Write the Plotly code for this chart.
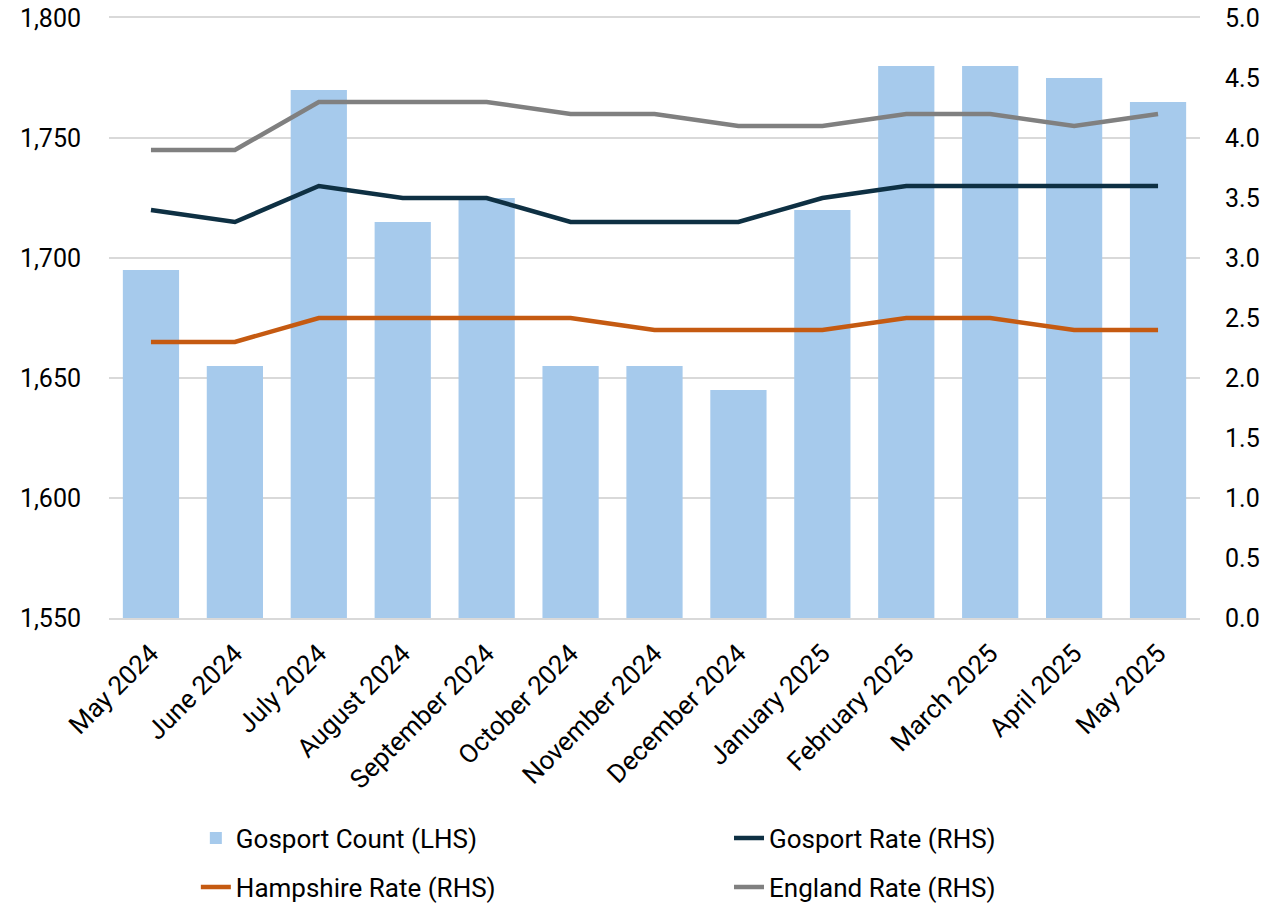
import plotly.graph_objects as go

months = ["May 2024", "June 2024", "July 2024", "August 2024", "September 2024",
          "October 2024", "November 2024", "December 2024", "January 2025",
          "February 2025", "March 2025", "April 2025", "May 2025"]
gosport_count = [1695, 1655, 1770, 1715, 1725, 1655, 1655, 1645, 1720, 1780, 1780, 1775, 1765]
gosport_rate = [3.4, 3.3, 3.6, 3.5, 3.5, 3.3, 3.3, 3.3, 3.5, 3.6, 3.6, 3.6, 3.6]
hampshire_rate = [2.3, 2.3, 2.5, 2.5, 2.5, 2.5, 2.4, 2.4, 2.4, 2.5, 2.5, 2.4, 2.4]
england_rate = [3.9, 3.9, 4.3, 4.3, 4.3, 4.2, 4.2, 4.1, 4.1, 4.2, 4.2, 4.1, 4.2]

FONT = "Roboto"
fig = go.Figure()
fig.add_trace(go.Bar(x=months, y=gosport_count, name="Gosport Count (LHS)",
                     marker=dict(color="#A6CAEC", line=dict(width=0)),
                     yaxis="y", legend="legend", showlegend=True))
fig.add_trace(go.Scatter(x=months, y=gosport_rate, name="Gosport Rate (RHS)", mode="lines",
                         line=dict(color="#0E3043", width=4.5), yaxis="y2", legend="legend2"))
fig.add_trace(go.Scatter(x=months, y=hampshire_rate, name="Hampshire Rate (RHS)", mode="lines",
                         line=dict(color="#C55A11", width=4.5), yaxis="y2", legend="legend3"))
fig.add_trace(go.Scatter(x=months, y=england_rate, name="England Rate (RHS)", mode="lines",
                         line=dict(color="#808080", width=4.5), yaxis="y2", legend="legend4"))

legend_common = dict(orientation="h", xanchor="left", yanchor="middle",
                     font=dict(family=FONT, size=26, color="#000000"),
                     bgcolor="rgba(0,0,0,0)", itemclick=False, itemdoubleclick=False)

col1, col2 = 0.0796, 0.5683
row1, row2 = -0.3667, -0.4483

fig.update_layout(
    width=1268, height=905,
    showlegend=True,
    hovermode=False,
    margin=dict(l=109, r=68, t=18, b=287, autoexpand=False),
    paper_bgcolor="white", plot_bgcolor="white",
    font=dict(family=FONT, size=25, color="#000000"),
    bargap=0.33,
    xaxis=dict(tickangle=-45, showgrid=False, showline=True, mirror=True,
               linecolor="#D9D9D9", linewidth=1.5, tickfont=dict(size=26), ticks="",
               automargin=False, ticklabelstandoff=8, ticklabeloverflow="allow"),
    yaxis=dict(range=[1550, 1800], dtick=50, tickformat=",", showgrid=True,
               gridcolor="#D9D9D9", gridwidth=1.5, zeroline=False, showline=False,
               ticks="", ticklabelstandoff=27, tickfont=dict(size=25), automargin=False,
               ticklabeloverflow="allow"),
    yaxis2=dict(range=[0, 5], dtick=0.5, tickformat=".1f", overlaying="y", side="right",
                showgrid=False, zeroline=False, showline=False, ticks="",
                ticklabelstandoff=24, tickfont=dict(size=25), automargin=False,
                ticklabeloverflow="allow"),
    legend=dict(x=col1, y=row1, **legend_common),
    legend2=dict(x=col2, y=row1, **legend_common),
    legend3=dict(x=col1, y=row2, **legend_common),
    legend4=dict(x=col2, y=row2, **legend_common),
)

fig.write_html("out.html", config={"displayModeBar": False},
               post_script="document.body.style.margin='0px';document.body.style.overflow='hidden';")
